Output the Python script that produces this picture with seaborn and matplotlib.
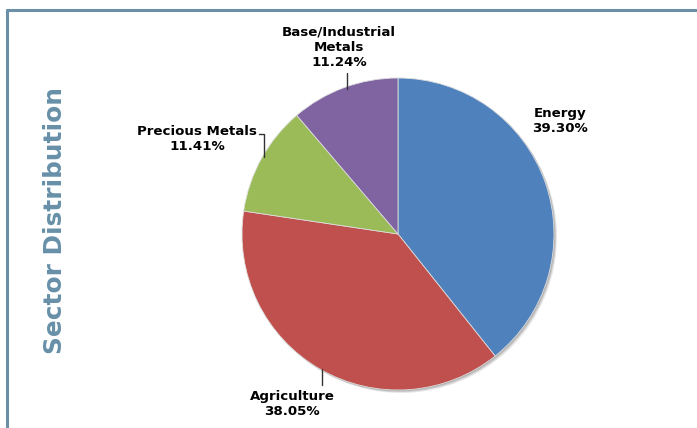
import numpy as np
import matplotlib
matplotlib.use("Agg")
import matplotlib.pyplot as plt
import seaborn as sns
from matplotlib.patches import Circle
from matplotlib.lines import Line2D

sectors = ["Energy", "Agriculture", "Precious Metals", "Base/Industrial\nMetals"]
shares = [39.30, 38.05, 11.41, 11.24]
colors = ["#4f81bd", "#c0504d", "#9bbb59", "#8064a2"]
title = "Sector Distribution"

sns.set_theme(style="white")
plt.rcParams['font.family'] = ['DejaVu Sans']

W, H = 697, 428
fig = plt.figure(figsize=(W / 100, H / 100), dpi=100)
ax = fig.add_axes([0, 0, 1, 1])

cx, cy, R = 398, 194, 156
# soft shadow
for off, a in [(3.0, 0.18), (2.0, 0.3), (1.0, 0.35)]:
    ax.add_patch(Circle((cx + off, cy - off), R, facecolor="gray", alpha=a,
                        edgecolor="none", zorder=1))

wedges, _ = ax.pie(shares, colors=sns.color_palette(colors), startangle=90,
                   counterclock=False, center=(cx, cy), radius=R,
                   wedgeprops=dict(linewidth=0.6, edgecolor="#dddddd"), frame=True)
for w in wedges:
    w.set_zorder(2)
ax.set_xlim(0, W)
ax.set_ylim(0, H)
ax.set_aspect("equal")
ax.axis("off")

def edge_pt(w):
    ang = np.deg2rad((w.theta1 + w.theta2) / 2)
    return cx + R * np.cos(ang), cy + R * np.sin(ang)

lab_kw = dict(fontsize=9.6, fontweight="bold", color="black", ha="center",
              va="center", linespacing=1.2, zorder=5)
lc = "#333333"

# Energy
ax.text(560, 307, f"{sectors[0]}\n{shares[0]:.2f}%", **lab_kw)
# Agriculture
ex, ey = edge_pt(wedges[1])
ax.plot([ex + 2, ex + 2], [ey, 43], color=lc, lw=1, zorder=3)
ax.text(292, 24, f"{sectors[1]}\n{shares[1]:.2f}%", **lab_kw)
# Precious metals
ex, ey = edge_pt(wedges[2])
ax.plot([ex + 2, ex + 2, 259], [ey + 1, 294, 294], color=lc, lw=1, zorder=3)
ax.text(197, 289, f"{sectors[2]}\n{shares[2]:.2f}%", **lab_kw)
# Base metals
ex, ey = edge_pt(wedges[3])
ax.plot([ex + 3, ex + 3], [ey - 1, 355], color=lc, lw=1, zorder=3)
ax.text(339, 381, f"{sectors[3]}\n{shares[3]:.2f}%", **lab_kw)

# frame
fc = "#6b8fa6"
fig.add_artist(Line2D([7 / W, 7 / W], [0, 1 - 10 / H], color=fc, lw=2.2,
                      transform=fig.transFigure))
fig.add_artist(Line2D([7 / W, 1], [1 - 10 / H, 1 - 10 / H], color=fc, lw=2.2,
                      transform=fig.transFigure))

fig.text(55 / W, 1 - 221 / H, title, rotation=90, ha="center", va="center",
         fontsize=17.8, fontweight="heavy", color="#6790a8")

fig.savefig("out.png", dpi=100)
